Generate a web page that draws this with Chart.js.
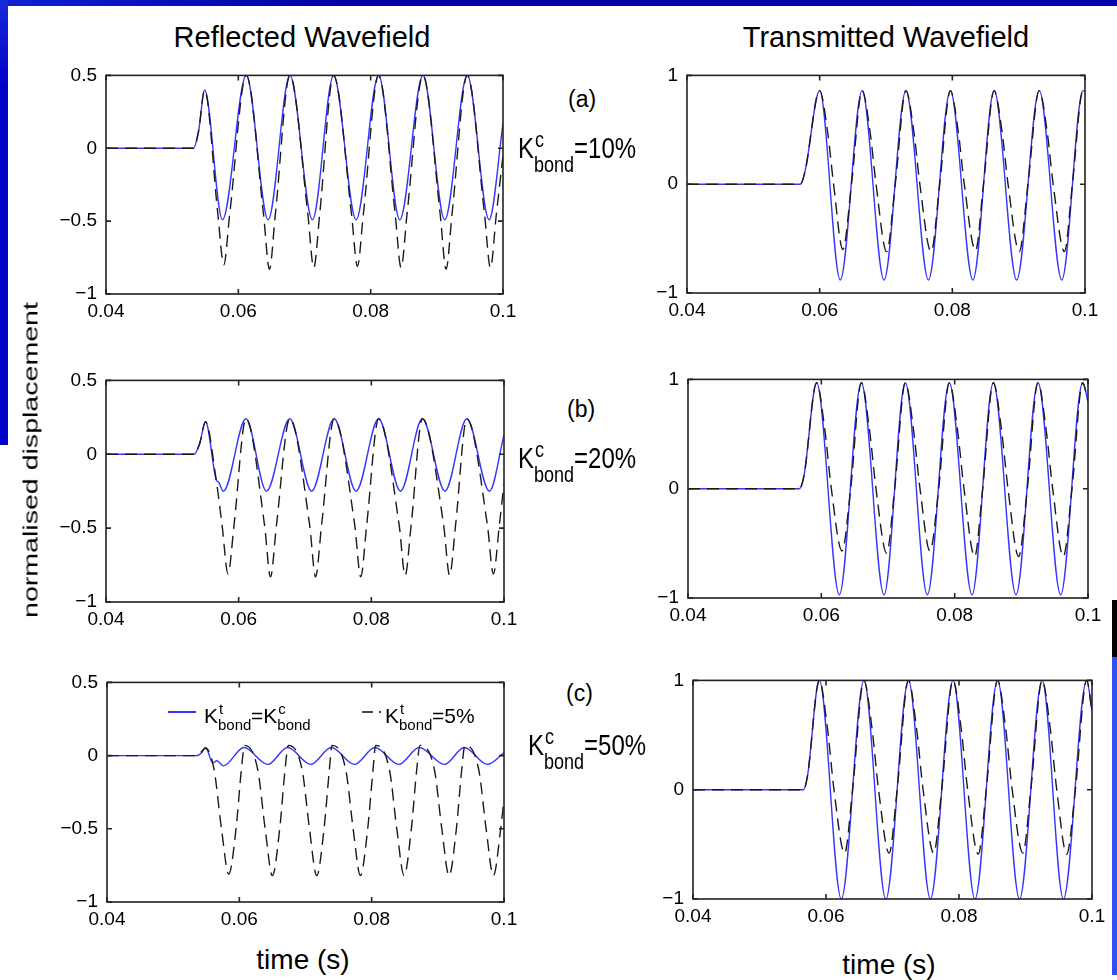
<!DOCTYPE html>
<html>
<head>
<meta charset="utf-8">
<script src="https://cdn.jsdelivr.net/npm/chart.js@4.4.1/dist/chart.umd.min.js"></script>
<style>
html, body { margin: 0; padding: 0; background: #fff; }
#page { position: relative; width: 1117px; height: 980px; overflow: hidden; background: #fff;
  font-family: "Liberation Sans", Arial, Helvetica, sans-serif; color: #000; }
canvas { position: absolute; }
.txt { position: absolute; white-space: nowrap; line-height: 1; }
.title { font-size: 29px; transform: translateX(-50%); }
.xlab { font-size: 28px; transform: translateX(-50%); }
.ylab { position: absolute; left: 30px; top: 460px; font-size: 21px; white-space: nowrap; line-height: 1;
  transform: translate(-50%, -50%) rotate(-90deg) scaleX(1.36); }
.tag { font-size: 23px; }
.kl { position: absolute; font-size: 24px; line-height: 24px; white-space: nowrap;
  transform: scaleY(1.2); transform-origin: 0 0; }
.kl .ss { display: inline-block; position: relative; width: 40px; height: 1px; }
.kl .sp, .kl .sb { position: absolute; left: 0; font-size: 18px; line-height: 18px; }
.kl .sp { bottom: 6px; left: 1px; }
.kl .sb { top: -2.5px; }
.lg { position: absolute; font-size: 21px; line-height: 21px; white-space: nowrap; }
.lg .ss { display: inline-block; position: relative; width: 33px; height: 1px; }
.lg .sp, .lg .sb { position: absolute; left: 0; font-size: 15px; line-height: 15px; }
.lg .sp { bottom: 7.5px; left: 1px; }
.lg .sb { top: -5.5px; }
.mark { position: absolute; height: 2px; }
</style>
</head>
<body>
<div id="page">
  <div style="position:absolute;left:0;top:0;width:1117px;height:6px;background:linear-gradient(90deg,#1020d0,#0000a8 30%,#0000b0)"></div>
  <div style="position:absolute;left:0;top:0;width:8px;height:445px;background:linear-gradient(180deg,#1a2ad8,#0000c8 20%)"></div>
  <div style="position:absolute;left:1112px;top:600px;width:5px;height:57px;background:#000"></div>
  <div style="position:absolute;left:1112px;top:657px;width:5px;height:318px;background:#3050f0"></div>

  <canvas id="reflA"></canvas>
  <canvas id="reflB"></canvas>
  <canvas id="reflC"></canvas>
  <canvas id="transA"></canvas>
  <canvas id="transB"></canvas>
  <canvas id="transC"></canvas>

  <div class="txt title" style="left:302px;top:23px">Reflected Wavefield</div>
  <div class="txt title" style="left:886px;top:23px">Transmitted Wavefield</div>
  <div class="ylab">normalised displacement</div>
  <div class="txt xlab" style="left:303px;top:946px">time (s)</div>
  <div class="txt xlab" style="left:889px;top:951px">time (s)</div>

  <div class="txt tag" style="left:568px;top:88px">(a)</div>
  <div class="kl" style="left:518px;top:134px">K<span class="ss"><span class="sp">c</span><span class="sb">bond</span></span>=10%</div>
  <div class="txt tag" style="left:567px;top:398px">(b)</div>
  <div class="kl" style="left:518px;top:444px">K<span class="ss"><span class="sp">c</span><span class="sb">bond</span></span>=20%</div>
  <div class="txt tag" style="left:566px;top:682px">(c)</div>
  <div class="kl" style="left:528px;top:731px">K<span class="ss"><span class="sp">c</span><span class="sb">bond</span></span>=50%</div>

  <div class="mark" style="left:168px;top:711px;width:28px;background:#3535ff"></div>
  <div class="lg" style="left:204px;top:705px">K<span class="ss"><span class="sp">t</span><span class="sb">bond</span></span>=K<span class="ss"><span class="sp">c</span><span class="sb">bond</span></span></div>
  <div class="mark" style="left:362px;top:711px;width:11px;background:#444"></div>
  <div class="mark" style="left:379px;top:711px;width:2px;background:#444"></div>
  <div class="lg" style="left:385px;top:705px">K<span class="ss"><span class="sp">t</span><span class="sb">bond</span></span>=5%</div>
</div>

<script>
// axis ticks
const timeTicks = [0.04, 0.06, 0.08, 0.1];
const timeTickLabels = ["0.04", "0.06", "0.08", "0.1"];
const reflTicks = [-1, -0.5, 0, 0.5];
const reflTickLabels = ["\u22121", "\u22120.5", "0", "0.5"];
const transTicks = [-1, 0, 1];
const transTickLabels = ["\u22121", "0", "1"];

// (a) reflected, Kc = 10%
const reflA_solidT = [0.0400, 0.0532, 0.0540, 0.0549, 0.0576, 0.0612, 0.0645, 0.0678, 0.0712, 0.0744, 0.0778, 0.0812, 0.0844, 0.0879, 0.0912, 0.0946, 0.0979, 0.1000];
const reflA_solid = [0, 0, 0.12, 0.40, -0.49, 0.50, -0.49, 0.50, -0.49, 0.50, -0.49, 0.50, -0.49, 0.50, -0.49, 0.50, -0.49, 0.17];
const reflA_dashT = [0.0400, 0.0532, 0.0540, 0.0549, 0.0569, 0.0578, 0.0587, 0.0612, 0.0638, 0.0647, 0.0656, 0.0678, 0.0705, 0.0714, 0.0723, 0.0744, 0.0771, 0.0780, 0.0789, 0.0812, 0.0837, 0.0846, 0.0855, 0.0879, 0.0905, 0.0914, 0.0923, 0.0946, 0.0972, 0.0981, 0.0990, 0.1000];
const reflA_dash = [0, 0, 0.12, 0.40, -0.45, -0.80, -0.45, 0.50, -0.45, -0.83, -0.45, 0.50, -0.45, -0.82, -0.45, 0.50, -0.45, -0.81, -0.45, 0.50, -0.45, -0.82, -0.45, 0.50, -0.45, -0.83, -0.45, 0.50, -0.45, -0.82, -0.45, -0.05];

// (b) reflected, Kc = 20%
const reflB_solidT = [0.0400, 0.0533, 0.0541, 0.0550, 0.0566, 0.0570, 0.0577, 0.0611, 0.0642, 0.0677, 0.0710, 0.0744, 0.0777, 0.0811, 0.0844, 0.0877, 0.0911, 0.0944, 0.0978, 0.1000];
const reflB_solid = [0, 0, 0.07, 0.22, -0.17, -0.19, -0.25, 0.24, -0.25, 0.24, -0.25, 0.24, -0.25, 0.24, -0.25, 0.24, -0.25, 0.24, -0.25, 0.13];
const reflB_dashT = [0.0400, 0.0533, 0.0541, 0.0550, 0.0566, 0.0575, 0.0584, 0.0593, 0.0611, 0.0639, 0.0648, 0.0657, 0.0677, 0.0707, 0.0716, 0.0725, 0.0744, 0.0775, 0.0784, 0.0793, 0.0811, 0.0842, 0.0851, 0.0860, 0.0877, 0.0909, 0.0918, 0.0927, 0.0944, 0.0975, 0.0984, 0.0993, 0.1000];
const reflB_dash = [0, 0, 0.07, 0.22, -0.17, -0.48, -0.81, -0.48, 0.24, -0.48, -0.83, -0.48, 0.24, -0.48, -0.83, -0.48, 0.24, -0.48, -0.83, -0.48, 0.24, -0.48, -0.82, -0.48, 0.24, -0.48, -0.82, -0.48, 0.24, -0.48, -0.81, -0.48, -0.20];

// (c) reflected, Kc = 50%
const reflC_solidT = [0.0400, 0.0536, 0.0543, 0.0549, 0.0560, 0.0566, 0.0576, 0.0607, 0.0643, 0.0673, 0.0708, 0.0739, 0.0774, 0.0805, 0.0841, 0.0872, 0.0910, 0.0940, 0.0975, 0.1000];
const reflC_solid = [0, 0, 0.02, 0.055, -0.05, -0.035, -0.07, 0.055, -0.06, 0.055, -0.06, 0.055, -0.06, 0.055, -0.06, 0.055, -0.06, 0.055, -0.06, 0.02];
const reflC_dashT = [0.0400, 0.0536, 0.0549, 0.0562, 0.0573, 0.0584, 0.0595, 0.0603, 0.0608,
  0.0628, 0.0639, 0.0650, 0.0661, 0.0669, 0.0674,
  0.0695, 0.0706, 0.0717, 0.0728, 0.0736, 0.0740,
  0.0761, 0.0772, 0.0783, 0.0794, 0.0802, 0.0806,
  0.0827, 0.0838, 0.0849, 0.0860, 0.0868, 0.0873,
  0.0895, 0.0906, 0.0917, 0.0928, 0.0936, 0.0941,
  0.0962, 0.0973, 0.0984, 0.0995, 0.1000];
const reflC_dash = [0, 0, 0.05, -0.10, -0.50, -0.81, -0.50, -0.10, 0.07,
  -0.10, -0.50, -0.82, -0.50, -0.10, 0.07,
  -0.10, -0.50, -0.82, -0.50, -0.10, 0.07,
  -0.10, -0.50, -0.82, -0.50, -0.10, 0.07,
  -0.10, -0.50, -0.82, -0.50, -0.10, 0.07,
  -0.10, -0.50, -0.82, -0.50, -0.10, 0.07,
  -0.10, -0.50, -0.82, -0.50, -0.30];

// (a) transmitted
const transA_solidT = [0.0400, 0.0571, 0.0578, 0.0600, 0.0631, 0.0664, 0.0697, 0.0730, 0.0764, 0.0797, 0.0831, 0.0863, 0.0897, 0.0931, 0.0965, 0.0997, 0.1000];
const transA_solid = [0, 0, 0.12, 0.86, -0.88, 0.86, -0.88, 0.86, -0.88, 0.86, -0.88, 0.86, -0.88, 0.86, -0.88, 0.86, 0.85];
const transA_dashT = [0.0400, 0.0571, 0.0578, 0.0600, 0.0612, 0.0621, 0.0635, 0.0648, 0.0664, 0.0676, 0.0685, 0.0701, 0.0714, 0.0730, 0.0742, 0.0751, 0.0768, 0.0781, 0.0797, 0.0809, 0.0818, 0.0835, 0.0847, 0.0863, 0.0875, 0.0884, 0.0901, 0.0914, 0.0931, 0.0943, 0.0952, 0.0969, 0.0981, 0.0997, 0.1000];
const transA_dash = [0, 0, 0.12, 0.86, 0.48, 0, -0.60, 0, 0.86, 0.48, 0, -0.62, 0, 0.86, 0.48, 0, -0.62, 0, 0.86, 0.48, 0, -0.61, 0, 0.86, 0.48, 0, -0.62, 0, 0.86, 0.48, 0, -0.62, 0, 0.86, 0.85];

// (b) transmitted
const transB_solidT = [0.0400, 0.0567, 0.0574, 0.0593, 0.0627, 0.0660, 0.0694, 0.0726, 0.0759, 0.0792, 0.0826, 0.0858, 0.0892, 0.0925, 0.0959, 0.0992, 0.1000];
const transB_solid = [0, 0, 0.12, 0.97, -0.97, 0.97, -0.97, 0.97, -0.97, 0.97, -0.97, 0.97, -0.97, 0.97, -0.97, 0.97, 0.80];
const transB_dashT = [0.0400, 0.0567, 0.0574, 0.0593, 0.0605, 0.0615, 0.0631, 0.0644, 0.0660, 0.0672, 0.0682, 0.0698, 0.0710, 0.0726, 0.0738, 0.0748, 0.0763, 0.0776, 0.0792, 0.0804, 0.0814, 0.0830, 0.0842, 0.0858, 0.0870, 0.0880, 0.0896, 0.0909, 0.0925, 0.0937, 0.0947, 0.0963, 0.0976, 0.0992, 0.1000];
const transB_dash = [0, 0, 0.12, 0.97, 0.55, 0, -0.57, 0, 0.97, 0.55, 0, -0.59, 0, 0.97, 0.55, 0, -0.57, 0, 0.97, 0.55, 0, -0.62, 0, 0.97, 0.55, 0, -0.62, 0, 0.97, 0.55, 0, -0.62, 0, 0.97, 0.80];

// (c) transmitted
const transC_solidT = [0.0400, 0.0566, 0.0572, 0.0590, 0.0623, 0.0657, 0.0690, 0.0724, 0.0757, 0.0791, 0.0824, 0.0858, 0.0891, 0.0925, 0.0957, 0.0992, 0.1000];
const transC_solid = [0, 0, 0.12, 1.0, -1.0, 1.0, -1.0, 1.0, -1.0, 1.0, -1.0, 1.0, -1.0, 1.0, -1.0, 1.0, 0.72];
const transC_dashT = [0.0400, 0.0566, 0.0572, 0.0590, 0.0602, 0.0612, 0.0628, 0.0640, 0.0657, 0.0669, 0.0679, 0.0695, 0.0707, 0.0724, 0.0736, 0.0746, 0.0762, 0.0774, 0.0791, 0.0803, 0.0813, 0.0829, 0.0841, 0.0858, 0.0870, 0.0880, 0.0896, 0.0908, 0.0925, 0.0937, 0.0947, 0.0962, 0.0975, 0.0992, 0.1000];
const transC_dash = [0, 0, 0.12, 1.0, 0.57, 0, -0.58, 0, 1.0, 0.57, 0, -0.58, 0, 1.0, 0.57, 0, -0.58, 0, 1.0, 0.57, 0, -0.59, 0, 1.0, 0.57, 0, -0.58, 0, 1.0, 0.57, 0, -0.59, 0, 1.0, 0.72];

// plot boxes in page pixels: left, top, right, bottom
const boxes = {
    reflA: [106, 67, 503, 294],
    reflB: [106, 372, 504, 602],
    reflC: [107, 674, 504, 902],
    transA: [687, 67, 1085, 293],
    transB: [688, 371, 1088, 598],
    transC: [693, 672, 1092, 899]
};

const blue = '#3535ff';
Chart.defaults.font.family = '"Liberation Sans", Arial, sans-serif';
Chart.defaults.font.size = 19;
Chart.defaults.color = '#000';

function pts(ts, ys) {
    return ts.map((t, i) => ({ x: t, y: ys[i] }));
}

// matlab style box with inward ticks
const frame = {
    id: 'frame',
    afterDatasetsDraw(chart) {
        const ctx = chart.ctx, a = chart.chartArea;
        const xs = chart.scales.x, ys = chart.scales.y;
        ctx.save();
        ctx.strokeStyle = '#222';
        ctx.lineWidth = 1.6;
        ctx.strokeRect(a.left, a.top, a.right - a.left, a.bottom - a.top);
        ctx.beginPath();
        xs.ticks.forEach(t => {
            const px = xs.getPixelForValue(t.value);
            ctx.moveTo(px, a.bottom); ctx.lineTo(px, a.bottom - 5);
            ctx.moveTo(px, a.top); ctx.lineTo(px, a.top + 5);
        });
        ys.ticks.forEach(t => {
            const py = ys.getPixelForValue(t.value);
            ctx.moveTo(a.left, py); ctx.lineTo(a.left + 5, py);
            ctx.moveTo(a.right, py); ctx.lineTo(a.right - 5, py);
        });
        ctx.stroke();
        ctx.restore();
    }
};

function drawPanel(id, yMin, yMax, yTicks, yLabels, solidT, solidY, dashT, dashY) {
    const [L, T, R, B] = boxes[id];
    const cv = document.getElementById(id);
    cv.width = R - L + 95;
    cv.height = B - T + 47;
    cv.style.left = (L - 70) + 'px';
    cv.style.top = (T - 12) + 'px';
    new Chart(cv.getContext('2d'), {
        type: 'line',
        data: {
            datasets: [
                { data: pts(dashT, dashY), borderColor: '#1a1a1a', borderWidth: 1.4, borderDash: [12, 7], order: 1 },
                { data: pts(solidT, solidY), borderColor: blue, borderWidth: 1.4, order: 2 }
            ]
        },
        plugins: [frame],
        options: {
            responsive: false,
            animation: false,
            devicePixelRatio: 1,
            events: [],
            layout: { autoPadding: false, padding: { top: 12, right: 25, left: 0, bottom: 0 } },
            elements: {
                point: { radius: 0 },
                line: { cubicInterpolationMode: 'monotone', fill: false }
            },
            plugins: { legend: { display: false }, tooltip: { enabled: false } },
            scales: {
                x: {
                    type: 'linear', min: 0.04, max: 0.1,
                    grid: { display: false, drawTicks: false },
                    border: { display: false },
                    afterBuildTicks: s => { s.ticks = timeTicks.map(v => ({ value: v })); },
                    afterFit: s => { s.height = 35; },
                    ticks: { padding: 6, maxRotation: 0, autoSkip: false, callback: (v, i) => timeTickLabels[i] }
                },
                y: {
                    type: 'linear', min: yMin, max: yMax,
                    grid: { display: false, drawTicks: false },
                    border: { display: false },
                    afterBuildTicks: s => { s.ticks = yTicks.map(v => ({ value: v })); },
                    afterFit: s => { s.width = 70; },
                    ticks: { padding: 9, autoSkip: false, callback: (v, i) => yLabels[i] }
                }
            }
        }
    });
}

drawPanel('reflA', -1, 0.5, reflTicks, reflTickLabels, reflA_solidT, reflA_solid, reflA_dashT, reflA_dash);
drawPanel('reflB', -1, 0.5, reflTicks, reflTickLabels, reflB_solidT, reflB_solid, reflB_dashT, reflB_dash);
drawPanel('reflC', -1, 0.5, reflTicks, reflTickLabels, reflC_solidT, reflC_solid, reflC_dashT, reflC_dash);
drawPanel('transA', -1, 1, transTicks, transTickLabels, transA_solidT, transA_solid, transA_dashT, transA_dash);
drawPanel('transB', -1, 1, transTicks, transTickLabels, transB_solidT, transB_solid, transB_dashT, transB_dash);
drawPanel('transC', -1, 1, transTicks, transTickLabels, transC_solidT, transC_solid, transC_dashT, transC_dash);
</script>
</body>
</html>
